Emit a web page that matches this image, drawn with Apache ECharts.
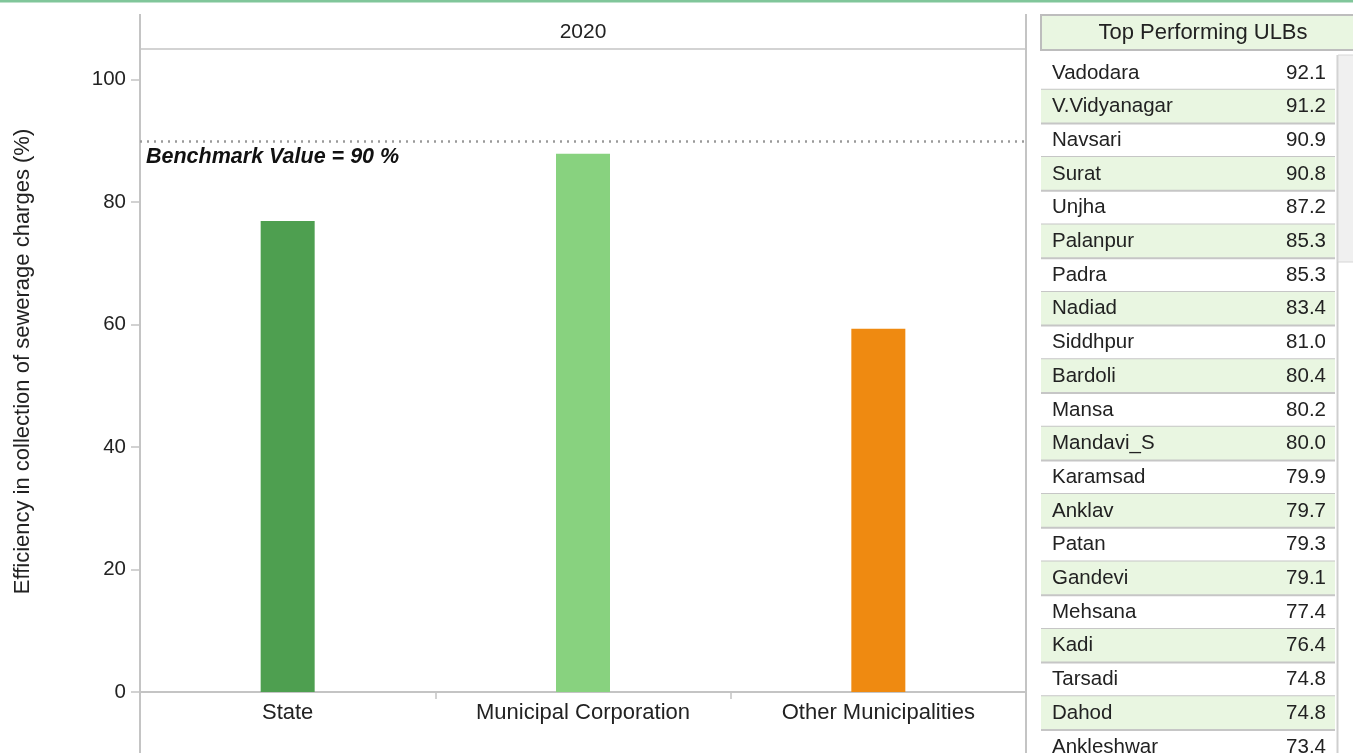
<!DOCTYPE html>
<html>
<head>
<meta charset="utf-8">
<script src="https://cdn.jsdelivr.net/npm/echarts@6/dist/echarts.min.js"></script>
<style>
html,body{margin:0;padding:0;background:#fff;}
#c{width:1353px;height:753px;}
</style>
</head>
<body>
<div id="c"></div>
<script>
// ---- data ----
var categories = ['State', 'Municipal Corporation', 'Other Municipalities'];
var efficiency = [76.9, 87.9, 59.3];
var barColors = ['#4e9f50', '#88d27f', '#ef8a11'];
var benchmark = 90;
var yTicks = [0, 20, 40, 60, 80, 100];
var facetLabel = '2020';
var tableTitle = 'Top Performing ULBs';
var ulbNames = ['Vadodara','V.Vidyanagar','Navsari','Surat','Unjha','Palanpur','Padra','Nadiad','Siddhpur','Bardoli','Mansa','Mandavi_S','Karamsad','Anklav','Patan','Gandevi','Mehsana','Kadi','Tarsadi','Dahod','Ankleshwar'];
var ulbValues = [92.1, 91.2, 90.9, 90.8, 87.2, 85.3, 85.3, 83.4, 81.0, 80.4, 80.2, 80.0, 79.9, 79.7, 79.3, 79.1, 77.4, 76.4, 74.8, 74.8, 73.4];

// ---- layout ----
var FONT = '"Liberation Sans", Arial, sans-serif';
var gridL = 140, gridR = 1026, gridT = 49, gridB = 692, W = 1353, H = 753;
var tblL = 1041, tblR = 1335, tblTop = 56, rowH = 33.7;
var lineGray = '#c4c4c4';

var chart = echarts.init(document.getElementById('c'), null, {renderer: 'canvas'});

var graphics = [];
// top green strip
graphics.push({type: 'rect', shape: {x: 0, y: 0, width: W, height: 2.5}, style: {fill: '#80c69a'}, silent: true});
// chart frame verticals
graphics.push({type: 'line', shape: {x1: gridL, y1: 14, x2: gridL, y2: H}, style: {stroke: lineGray, lineWidth: 2}, silent: true});
graphics.push({type: 'line', shape: {x1: gridR, y1: 14, x2: gridR, y2: H}, style: {stroke: lineGray, lineWidth: 2}, silent: true});
// facet header line
graphics.push({type: 'line', shape: {x1: gridL, y1: gridT, x2: gridR, y2: gridT}, style: {stroke: lineGray, lineWidth: 1.5}, silent: true});
graphics.push({type: 'text', x: (gridL + gridR) / 2, y: 32, style: {text: facetLabel, font: '21px ' + FONT, fill: '#222', textAlign: 'center', textVerticalAlign: 'middle'}, silent: true});

// table header
graphics.push({type: 'rect', shape: {x: tblL, y: 15, width: 330, height: 35}, style: {fill: '#e9f6e1', stroke: '#bdbdbd', lineWidth: 2}, silent: true});
graphics.push({type: 'text', x: 1203, y: 33, style: {text: tableTitle, font: '22px ' + FONT, fill: '#222', textAlign: 'center', textVerticalAlign: 'middle'}, silent: true});
// scrollbar track
graphics.push({type: 'line', shape: {x1: 1337.5, y1: 55, x2: 1337.5, y2: H}, style: {stroke: '#cfcfcf', lineWidth: 2}, silent: true});
graphics.push({type: 'rect', shape: {x: 1338, y: 55, width: 20, height: 207}, style: {fill: '#f0f0f0', stroke: '#d6d6d6', lineWidth: 1}, silent: true});

// table rows
ulbNames.forEach(function (name, i) {
  var y0 = tblTop + i * rowH;
  if (i % 2 === 1) {
    graphics.push({type: 'rect', shape: {x: tblL, y: y0, width: tblR - tblL, height: rowH}, style: {fill: '#e9f6e1'}, silent: true});
  }
  graphics.push({type: 'line', shape: {x1: tblL, y1: y0 + rowH, x2: tblR, y2: y0 + rowH}, style: {stroke: '#c6c6c6', lineWidth: 2}, silent: true});
  graphics.push({type: 'text', x: 1052, y: y0 + rowH / 2, style: {text: name, font: '20.5px ' + FONT, fill: '#222', textAlign: 'left', textVerticalAlign: 'middle'}, silent: true});
  graphics.push({type: 'text', x: 1326, y: y0 + rowH / 2, style: {text: ulbValues[i].toFixed(1), font: '20.5px ' + FONT, fill: '#222', textAlign: 'right', textVerticalAlign: 'middle'}, silent: true});
});

var option = {
  animation: false,
  backgroundColor: '#fff',
  textStyle: {fontFamily: FONT},
  grid: {left: gridL, right: W - gridR, top: gridT, bottom: H - gridB, containLabel: false},
  xAxis: {
    type: 'category',
    data: categories,
    axisLine: {show: true, lineStyle: {color: lineGray, width: 2}},
    axisTick: {show: true, length: 7, lineStyle: {color: lineGray, width: 1.5}},
    axisLabel: {color: '#222', fontSize: 22, margin: 10, fontFamily: FONT},
    splitLine: {show: false}
  },
  yAxis: {
    type: 'value',
    min: 0,
    max: 105,
    interval: 20,
    name: 'Efficiency in collection of sewerage charges (%)',
    nameLocation: 'middle',
    nameGap: 106,
    nameTextStyle: {color: '#222', fontSize: 22, fontFamily: FONT, padding: [0, 0, 0, 18]},
    axisLine: {show: false},
    axisTick: {show: true, length: 9, lineStyle: {color: lineGray, width: 1.5},
      customValues: yTicks},
    axisLabel: {color: '#222', fontSize: 20.5, margin: 14, fontFamily: FONT,
      customValues: yTicks},
    splitLine: {show: false}
  },
  series: [{
    type: 'bar',
    barWidth: 54,
    data: efficiency.map(function (v, i) { return {value: v, itemStyle: {color: barColors[i]}}; }),
    markLine: {
      silent: true,
      symbol: ['none', 'none'],
      lineStyle: {color: '#9a9a9a', type: [2, 5], width: 2.5},
      label: {
        show: true,
        position: 'insideStartBottom',
        formatter: 'Benchmark Value = ' + benchmark + ' %',
        fontStyle: 'italic',
        fontWeight: 'bold',
        fontSize: 21.5,
        color: '#111',
        fontFamily: FONT,
        distance: [6, 5]
      },
      data: [{yAxis: benchmark}]
    }
  }],
  graphic: graphics
};
chart.setOption(option);
</script>
</body>
</html>
